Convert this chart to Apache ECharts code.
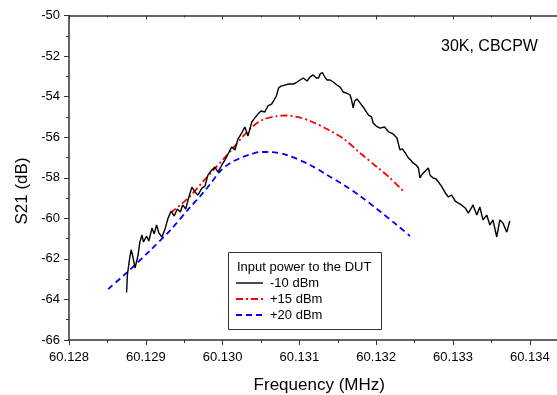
<!DOCTYPE html>
<html>
<head>
<meta charset="utf-8">
<script src="https://cdn.jsdelivr.net/npm/echarts@6/dist/echarts.min.js"></script>
<style>
html,body{margin:0;padding:0;background:#fff;}
#chart{width:557px;height:395px;}
</style>
</head>
<body>
<div id="chart"></div>
<script>
// x-axis tick labels
const xTicks = ['60.128','60.129','60.130','60.131','60.132','60.133','60.134'];
const yTicks = [-66,-64,-62,-60,-58,-56,-54,-52,-50];

// -10 dBm (black, noisy measured trace)
const freqBlack = [60.12875,60.12876,60.12879,60.12881,60.12883,60.12886,60.12888,60.12890,60.12892,60.12895,
60.12897,60.12901,60.12904,60.12908,60.12911,60.12914,60.12917,60.12921,60.12925,60.12929,
60.12933,60.12937,60.12941,60.12945,60.12948,60.12952,60.12955,60.12960,60.12964,60.12968,
60.12973,60.12977,60.12981,60.12986,60.12990,60.12994,60.12999,60.13003,60.13007,60.13012,
60.13016,60.13020,60.13025,60.13029,60.13033,60.13038,60.13042,60.13046,60.13050,60.13055,
60.13059,60.13064,60.13067,60.13070,60.13073,60.13076,60.13081,60.13086,60.13092,60.13097,
60.13101,60.13105,60.13110,60.13114,60.13118,60.13122,60.13125,60.13127,60.13130,60.13133,
60.13136,60.13140,60.13144,60.13149,60.13153,60.13157,60.13161,60.13166,60.13168,60.13170,
60.13172,60.13175,60.13179,60.13183,60.13185,60.13190,60.13194,60.13196,60.13200,60.13205,
60.13211,60.13216,60.13219,60.13222,60.13227,60.13231,60.13234,60.13238,60.13242,60.13245,
60.13248,60.13252,60.13255,60.13257,60.13260,60.13264,60.13268,60.13270,60.13274,60.13278,
60.13281,60.13285,60.13290,60.13294,60.13298,60.13303,60.13307,60.13311,60.13316,60.13320,
60.13324,60.13326,60.13331,60.13335,60.13339,60.13344,60.13348,60.13352,60.13357,60.13361,
60.13365,60.13370,60.13374];
const dbBlack = [-63.66,-62.80,-61.96,-61.56,-61.86,-62.45,-62.40,-61.81,-61.22,-60.82,
-61.17,-60.87,-61.12,-60.48,-60.77,-60.33,-60.72,-60.92,-60.53,-59.99,
-59.64,-59.89,-59.54,-59.69,-59.34,-59.54,-59.10,-58.46,-58.70,-58.85,
-58.51,-58.41,-57.86,-57.62,-57.47,-57.72,-57.37,-57.13,-56.83,-56.48,
-56.63,-56.09,-55.79,-55.50,-55.94,-55.25,-55.05,-54.86,-54.71,-54.76,
-54.46,-54.36,-54.17,-53.97,-53.57,-53.48,-53.43,-53.38,-53.38,-53.28,
-53.18,-53.08,-53.23,-53.03,-52.93,-53.08,-53.08,-52.88,-52.81,-53.03,
-53.18,-53.18,-53.28,-53.43,-53.53,-53.77,-53.82,-53.92,-54.17,-54.56,
-54.22,-54.12,-54.31,-54.51,-54.51,-54.91,-55.00,-55.30,-55.45,-55.55,
-55.50,-55.74,-55.79,-55.84,-56.04,-56.63,-56.58,-56.78,-57.03,-57.13,
-57.27,-57.37,-57.52,-58.01,-57.82,-57.67,-57.52,-57.86,-58.01,-58.06,
-58.21,-58.41,-58.75,-58.95,-58.85,-59.15,-59.25,-59.34,-59.49,-59.74,
-59.49,-59.34,-59.84,-59.44,-60.08,-59.84,-60.33,-60.08,-60.92,-60.08,
-60.23,-60.68,-60.13];

// +15 dBm (red, dash-dot)
const freqRed = [60.12932,60.12945,60.12958,60.12974,60.12988,60.13001,60.13014,60.13027,60.13040,60.13053,
60.13071,60.13084,60.13097,60.13114,60.13136,60.13158,60.13179,60.13201,60.13218,60.13235];
const dbRed = [-59.74,-59.34,-58.90,-58.21,-57.62,-57.08,-56.53,-55.94,-55.45,-55.13,
-54.96,-54.93,-55.00,-55.20,-55.60,-56.09,-56.78,-57.47,-58.01,-58.65];

// +20 dBm (blue, dashed)
const freqBlue = [60.12851,60.12876,60.12905,60.12932,60.12958,60.12971,60.12984,60.12997,60.13010,60.13023,
60.13036,60.13049,60.13062,60.13084,60.13114,60.13136,60.13158,60.13179,60.13201,60.13227,60.13244];
const dbBlue = [-63.49,-62.65,-61.61,-60.58,-59.44,-58.90,-58.31,-57.67,-57.27,-57.03,
-56.85,-56.73,-56.73,-56.88,-57.37,-57.86,-58.36,-58.90,-59.54,-60.33,-60.87];

const seriesNames = ['-10 dBm','+15 dBm','+20 dBm'];
const seriesColors = ['#000000','#ff0000','#0000ff'];
const seriesDash = ['solid',[7,3,2,3],[6,4]];
const seriesWidth = [1.4,1.8,1.8];

function zip(a,b){ return a.map((v,i)=>[v,b[i]]); }

const font = 'Liberation Sans, Arial, Helvetica, sans-serif';
const axisColor = '#333333';

// legend drawn as graphic elements
const legendGraphics = [
  {type:'rect', shape:{x:228.5, y:252.5, width:153, height:77}, style:{fill:'#ffffff', stroke:'#333333', lineWidth:1}},
  {type:'text', x:237, y:267, style:{text:'Input power to the DUT', fontFamily:font, fontSize:13, fill:'#000', verticalAlign:'middle'}}
];
const legendRows = [283, 299, 315];
seriesNames.forEach((n,i)=>{
  legendGraphics.push({type:'line', shape:{x1:236, y1:legendRows[i], x2:263, y2:legendRows[i]},
    style:{stroke:seriesColors[i], lineWidth:seriesWidth[i], lineDash: seriesDash[i]==='solid'? null : seriesDash[i]}});
  legendGraphics.push({type:'text', x:270, y:legendRows[i], style:{text:n, fontFamily:font, fontSize:13, fill:'#000', verticalAlign:'middle'}});
});

const chart = echarts.init(document.getElementById('chart'));
chart.setOption({
  animation:false,
  backgroundColor:'#ffffff',
  grid:{left:69, top:15.5, width:491.5, height:324.5, containLabel:false, outerBoundsMode:'none'},
  xAxis:[{
    type:'value', min:60.128, max:60.1344, interval:0.001,
    name:'Frequency (MHz)', nameLocation:'middle', nameGap:37,
    nameTextStyle:{fontFamily:font, fontSize:17, color:'#000', padding:[0,0,0,9]},
    axisLine:{show:true, onZero:false, lineStyle:{color:axisColor, width:1.5}},
    axisTick:{show:true, inside:false, length:5, lineStyle:{color:axisColor, width:1}},
    minorTick:{show:true, splitNumber:2, length:3, lineStyle:{color:axisColor, width:1}},
    splitLine:{show:false},
    axisLabel:{fontFamily:font, fontSize:13, color:'#000', margin:11, showMaxLabel:false,
      formatter:function(v){ const s=v.toFixed(3); return xTicks.indexOf(s)>=0 ? s : ''; }}
  },{
    type:'value', position:'top', min:60.128, max:60.1344, interval:0.001,
    axisLine:{show:true, onZero:false, lineStyle:{color:axisColor, width:1.5}},
    axisTick:{show:true, inside:true, length:4, lineStyle:{color:axisColor, width:1}},
    minorTick:{show:true, splitNumber:2, length:2, lineStyle:{color:axisColor, width:1}},
    axisLabel:{show:false}, splitLine:{show:false}
  }],
  yAxis:{
    type:'value', min:-66, max:-50, interval:2,
    axisLine:{show:true, onZero:false, lineStyle:{color:axisColor, width:1.5}},
    axisTick:{show:true, inside:false, length:5, lineStyle:{color:axisColor, width:1}},
    minorTick:{show:true, splitNumber:2, length:3, lineStyle:{color:axisColor, width:1}},
    splitLine:{show:false},
    axisLabel:{fontFamily:font, fontSize:13, color:'#000', margin:9,
      formatter:function(v){ return yTicks.indexOf(Math.round(v))>=0 ? String(Math.round(v)) : ''; }}
  },
  series: seriesNames.map((n,i)=>({
    name:n, type:'line',
    data: i===0 ? zip(freqBlack,dbBlack) : (i===1 ? zip(freqRed,dbRed) : zip(freqBlue,dbBlue)),
    showSymbol:false, symbol:'none', smooth: i===0 ? false : 0.3,
    lineStyle:{color:seriesColors[i], width:seriesWidth[i], type:seriesDash[i]},
    itemStyle:{color:seriesColors[i]}, z: i===0 ? 3 : 2
  })),
  graphic: legendGraphics.concat([
    {type:'text', x:441, y:47, style:{text:'30K, CBCPW', fontFamily:font, fontSize:16, fill:'#000', verticalAlign:'middle'}},
    {type:'text', x:22, y:191, rotation:Math.PI/2, style:{text:'S21 (dB)', fontFamily:font, fontSize:17, fill:'#000', align:'center', verticalAlign:'middle'}}
  ])
});
</script>
</body>
</html>
